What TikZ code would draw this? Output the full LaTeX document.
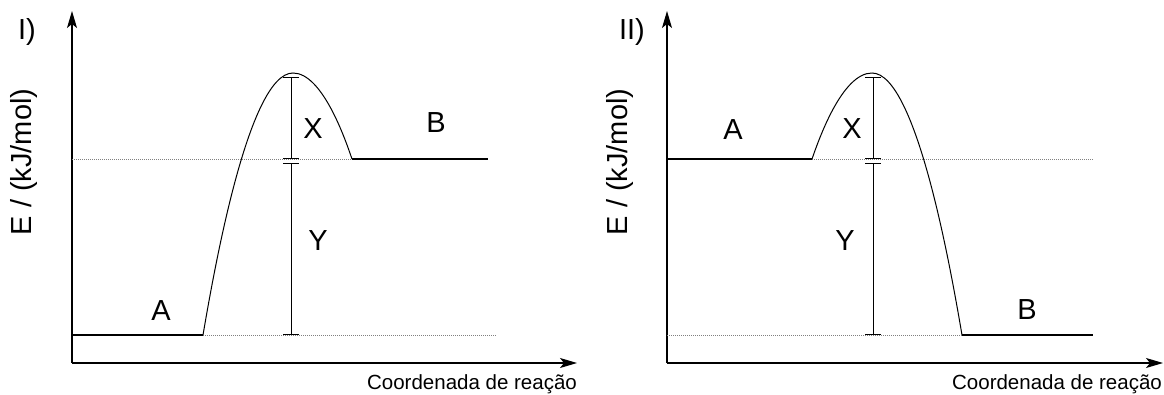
\documentclass[tikz,border=0pt]{standalone}
\usepackage{fontspec}
\setmainfont{Liberation Sans}
\usetikzlibrary{arrows.meta}
\begin{document}
\begin{tikzpicture}[x=1pt,y=-1pt,
  axis/.style={line width=1.2pt,-{Stealth[length=17pt,width=10pt,inset=4pt]}},
  curve/.style={line width=1pt},
  level/.style={line width=1.1pt},
  guide/.style={line width=1pt,gray,densely dotted},
  dim/.style={line width=0.9pt,{Bar[width=16pt,line width=1pt]}-{Bar[width=16pt,line width=1pt]}},
  big/.style={font=\fontsize{29}{29}\selectfont,inner sep=0pt},
  small/.style={font=\fontsize{20.5}{20.5}\selectfont,inner sep=0pt}]
\useasboundingbox (0,0) rectangle (1164,394);
% ---------- Panel I ----------
\coordinate (o1) at (72,363);
\coordinate (y1) at (72,11);
\coordinate (x1) at (577,363);
\draw[axis] (o1) -- (y1);
\draw[axis] (o1) -- (x1);
\coordinate (a1s) at (72,335);
\coordinate (a1e) at (203,335);
\coordinate (p1) at (293,73);
\coordinate (b1s) at (352,159);
\coordinate (b1e) at (488,159);
\coordinate (g1a) at (497,335);
\coordinate (g1b) at (72,159);
\draw[guide] (a1e) -- (g1a);
\draw[guide] (g1b) -- (b1s);
\draw[level] (a1s) -- (a1e);
\draw[level] (b1s) -- (b1e);
\draw[curve] (a1e) parabola bend (p1) (b1s);
\coordinate (d1t) at (291,77);
\coordinate (d1m) at (291,159);
\coordinate (d1n) at (291,163);
\coordinate (d1b) at (291,335);
\draw[dim] (d1t) -- (d1m);
\draw[dim] (d1n) -- (d1b);
\node[big] (lx1) at (313,129) {X};
\node[big] (ly1) at (318,241) {Y};
\node[big] (la1) at (161,311) {A};
\node[big] (lb1) at (436,123) {B};
\node[big] (lr1) at (27,32) {I)};
\node[big,rotate=90] (le1) at (24,162) {E / (kJ/mol)};
\node[small] (lc1) at (472,384) {Coordenada de reação};
% ---------- Panel II ----------
\coordinate (o2) at (667,363);
\coordinate (y2) at (667,11);
\coordinate (x2) at (1163,363);
\draw[axis] (o2) -- (y2);
\draw[axis] (o2) -- (x2);
\coordinate (a2s) at (667,159);
\coordinate (a2e) at (812,159);
\coordinate (p2) at (872,73);
\coordinate (b2s) at (962,335);
\coordinate (b2e) at (1093,335);
\coordinate (g2a) at (1093,159);
\coordinate (g2b) at (667,335);
\draw[guide] (a2e) -- (g2a);
\draw[guide] (g2b) -- (b2s);
\draw[level] (a2s) -- (a2e);
\draw[level] (b2s) -- (b2e);
\draw[curve] (a2e) parabola bend (p2) (b2s);
\coordinate (d2t) at (873,77);
\coordinate (d2m) at (873,159);
\coordinate (d2n) at (873,163);
\coordinate (d2b) at (873,335);
\draw[dim] (d2t) -- (d2m);
\draw[dim] (d2n) -- (d2b);
\node[big] (lx2) at (852,129) {X};
\node[big] (ly2) at (845,241) {Y};
\node[big] (la2) at (733,130) {A};
\node[big] (lb2) at (1027,310) {B};
\node[big] (lr2) at (632,32) {II)};
\node[big,rotate=90] (le2) at (620,162) {E / (kJ/mol)};
\node[small] (lc2) at (1057,384) {Coordenada de reação};
\end{tikzpicture}
\end{document}
